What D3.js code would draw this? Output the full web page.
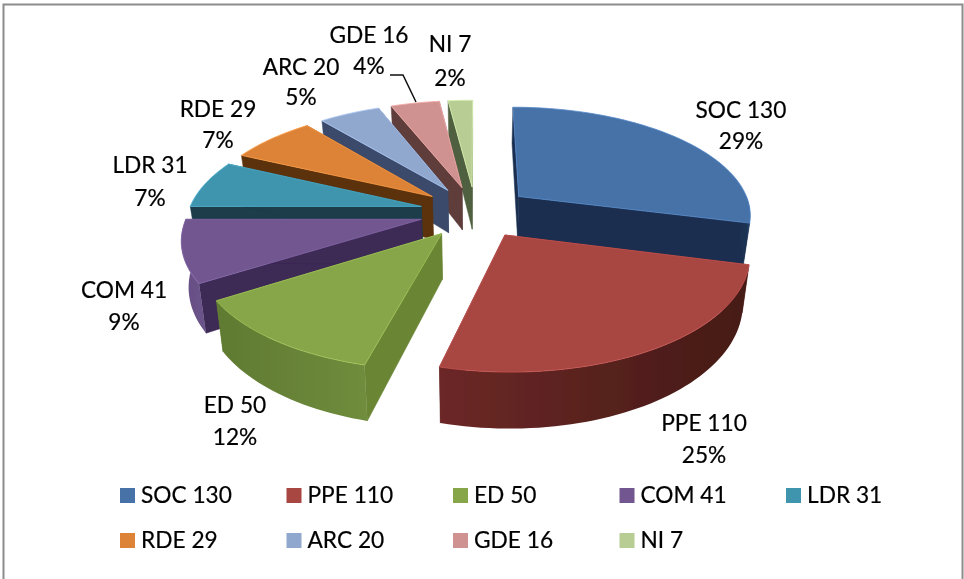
<!DOCTYPE html>
<html>
<head>
<meta charset="utf-8">
<script src="https://cdn.jsdelivr.net/npm/d3@7"></script>
<style>
  html, body { margin: 0; padding: 0; background: #fff; }
  text { font-family: Lato, "Open Sans", sans-serif; font-size: 22.7px; fill: #000; stroke: #000; stroke-width: 0.2px; }
</style>
</head>
<body>
<div id="chart"></div>
<script>
var categories = ["SOC", "PPE", "ED", "COM", "LDR", "RDE", "ARC", "GDE", "NI"];
var counts = [130, 110, 50, 41, 31, 29, 20, 16, 7];
var shares = [29, 25, 12, 9, 7, 7, 5, 4, 2];
var topColors = ["#4672a8", "#a84643", "#87a54a", "#71578f", "#3f95ae", "#dd8339", "#91a8ce", "#cf9290", "#b7cd94"];
var sideColors = ["#1a2f4f", "#5a2220", "#6a8636", "#3c2a55", "#1b3d4a", "#5c3310", "#3a4a6a", "#5e3c3a", "#50603f"];
var rimLight = ["#2a4a74", "#6c2826", "#6f8c3c", "#6a5288", "#2a6a7c", "#9c5c24", "#66789a", "#94686a", "#83946a"];
var rimDark = ["#1c3352", "#451a16", "#5f7a32", "#654d82", "#1f5666", "#7c4a1c", "#55668a", "#7c5654", "#6e7e58"];
// label centres
var labelX = [741, 704, 235, 124, 150, 218, 301, 369, 450];
var labelY = [110, 423, 405, 290, 165, 109, 67, 35, 44];
var lineGap = [31, 32, 32, 32, 33, 31, 30, 31, 34];

var width = 964, height = 579;
var cx = 475.5, cy = 212;
var explode = 0.24, persp = 0.156, wallHeight = 44;

var svg = d3.select("#chart").append("svg")
    .attr("width", width)
    .attr("height", height)
    .style("display", "block");

var defs = svg.append("defs");
defs.append("filter").attr("id", "soft")
    .attr("filterUnits", "userSpaceOnUse")
    .attr("x", 0).attr("y", 0).attr("width", width).attr("height", height)
    .append("feGaussianBlur").attr("stdDeviation", 0.45);

var root = svg.append("g").attr("filter", "url(#soft)");

root.append("rect")
    .attr("x", 3.5).attr("y", 4.5)
    .attr("width", 959).attr("height", 590)
    .attr("fill", "#fff")
    .attr("stroke", "#8c8c8c")
    .attr("stroke-width", 2);

// world units: pie radius = 1, y runs away from the viewer
var sx = d3.scaleLinear().domain([-1, 1]).range([cx - 233, cx + 233]);
var sy = d3.scaleLinear().domain([-1, 1]).range([cy + 107.7, cy - 107.7]);

function persScale(wy) { return 1 / (1 + persp * wy); }
function project(w) {
    var s = persScale(w[1]);
    return [cx + (sx(w[0]) - cx) * s, cy + (sy(w[1]) - cy) * s];
}
// bottom of the wall: verticals lean in a little towards the centre
function drop(w) {
    var p = project(w);
    return [cx + (p[0] - cx) * 0.975, p[1] + wallHeight * Math.pow(persScale(w[1]), 1.2)];
}

var pie = d3.pie().sort(null).value(function(d) { return d; });
var arcs = pie(shares);

var slices = arcs.map(function(a, i) {
    var mid = (a.startAngle + a.endAngle) / 2;
    var apex = [explode * Math.sin(mid), explode * Math.cos(mid)];
    return { i: i, a0: a.startAngle, a1: a.endAngle, apex: apex };
});
function rimPoint(s, ang) {
    return [s.apex[0] + Math.sin(ang), s.apex[1] + Math.cos(ang)];
}
function rimSamples(s, a0, a1) {
    var n = Math.max(2, Math.ceil((a1 - a0) / 0.03));
    return d3.range(n + 1).map(function(k) { return rimPoint(s, a0 + (a1 - a0) * k / n); });
}

var line = d3.line();
var pieG = root.append("g");

// rear slices first so the nearer ones cover them
slices.slice().sort(function(a, b) { return b.apex[1] - a.apex[1]; }).forEach(function(s) {
    var g = pieG.append("g");
    var i = s.i;
    var startRim = rimPoint(s, s.a0), endRim = rimPoint(s, s.a1);

    // the two cut faces
    [startRim, endRim].forEach(function(r) {
        var quad = [project(s.apex), project(r), drop(r), drop(s.apex)];
        g.append("path").attr("d", line(quad) + "Z")
            .attr("fill", sideColors[i])
            .attr("stroke", sideColors[i]).attr("stroke-width", 0.5);
    });

    // outer wall, only the part turned towards the viewer
    var f0 = Math.max(s.a0, Math.PI / 2), f1 = Math.min(s.a1, Math.PI * 3 / 2);
    if (f1 > f0) {
        var pts = rimSamples(s, f0, f1);
        var upper = pts.map(project), lower = pts.map(drop).reverse();
        var xs = d3.extent(upper, function(p) { return p[0]; });
        var grad = defs.append("linearGradient")
            .attr("id", "rim" + i)
            .attr("gradientUnits", "userSpaceOnUse")
            .attr("x1", xs[1]).attr("x2", xs[0]).attr("y1", 0).attr("y2", 0);
        var rimStops = i == 1 ? [rimDark[i], rimLight[i]] : [rimLight[i], rimDark[i]];
        grad.selectAll("stop").data(rimStops).enter().append("stop")
            .attr("offset", function(d, k) { return k; })
            .attr("stop-color", function(d) { return d; });
        g.append("path").attr("d", line(upper.concat(lower)) + "Z")
            .attr("fill", "url(#rim" + i + ")");
    }

    // top face
    var face = [s.apex].concat(rimSamples(s, s.a0, s.a1)).map(project);
    g.append("path").attr("d", line(face) + "Z")
        .attr("fill", topColors[i])
        .attr("stroke", d3.color(topColors[i]).brighter(0.5))
        .attr("stroke-width", 0.8)
        .attr("stroke-linejoin", "round");
});

// data labels
categories.forEach(function(c, i) {
    root.append("text").attr("x", labelX[i]).attr("y", labelY[i] + 8)
        .attr("text-anchor", "middle").text(c + " " + counts[i]);
    root.append("text").attr("x", labelX[i]).attr("y", labelY[i] + 8 + lineGap[i])
        .attr("text-anchor", "middle").text(shares[i] + "%");
});

// leader line of the GDE label
root.append("path")
    .attr("d", line([[390, 75], [403, 75], [416, 102]]))
    .attr("fill", "none").attr("stroke", "#111").attr("stroke-width", 1.5);

// legend
var legendCol = d3.scalePoint().domain(d3.range(5)).range([120, 786]);
var legendRow = d3.scalePoint().domain([0, 1]).range([488, 533]);
categories.forEach(function(c, i) {
    var x = legendCol(i % 5), y = legendRow(Math.floor(i / 5));
    root.append("rect").attr("x", x).attr("y", y).attr("width", 15).attr("height", 15)
        .attr("fill", topColors[i]);
    root.append("text").attr("x", x + 21).attr("y", y + 15).text(c + " " + counts[i]);
});
</script>
</body>
</html>
